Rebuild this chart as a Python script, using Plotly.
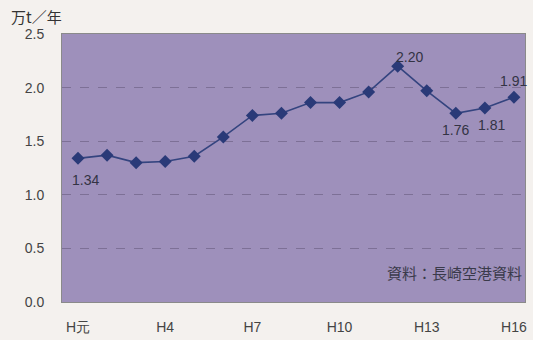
import plotly.graph_objects as go

years = ["H元", "H2", "H3", "H4", "H5", "H6", "H7", "H8", "H9", "H10",
         "H11", "H12", "H13", "H14", "H15", "H16"]
values = [1.34, 1.37, 1.30, 1.31, 1.36, 1.54, 1.74, 1.76, 1.86, 1.86,
          1.96, 2.20, 1.97, 1.76, 1.81, 1.91]
tick_labels = ["H元", "H4", "H7", "H10", "H13", "H16"]
label_years = ["H元", "H12", "H14", "H15", "H16"]
label_shift = [(8, -22), (12, 9), (0, -17), (7, -17), (0, 16)]

xs = list(range(len(years)))

fig = go.Figure()
fig.add_trace(go.Scatter(
    x=xs, y=values, mode="lines+markers",
    line=dict(color="#34447f", width=1.6),
    marker=dict(symbol="diamond", size=10, color="#2a3a78"),
    hoverinfo="skip", showlegend=False,
))

annotations = [
    dict(text="万t／年", xref="paper", yref="paper", x=-0.115, y=1.02,
         xanchor="left", yanchor="bottom", showarrow=False,
         font=dict(family="Noto Sans CJK JP", size=15, color="#333333")),
    dict(text="資料：長崎空港資料", xref="paper", yref="paper", x=0.998, y=0.11,
         xanchor="right", yanchor="middle", showarrow=False,
         font=dict(family="Noto Sans CJK JP", size=15, color="#3a3a4a")),
]
for yr, (dx, dy) in zip(label_years, label_shift):
    i = years.index(yr)
    annotations.append(dict(
        x=i, y=values[i], xref="x", yref="y", text=f"{values[i]:.2f}",
        showarrow=False, xshift=dx, yshift=dy,
        font=dict(family="Liberation Sans, Arial", size=14, color="#333344"),
    ))

fig.update_layout(
    width=533, height=340,
    margin=dict(l=62, r=8, t=34, b=38),
    paper_bgcolor="#f4f1ee",
    plot_bgcolor="#9e90bb",
    font=dict(family="Liberation Sans, Arial", size=14, color="#444444"),
    xaxis=dict(
        range=[-0.55, 15.38], automargin=False,
        tickvals=[years.index(t) for t in tick_labels],
        ticktext=tick_labels,
        showgrid=False, zeroline=False, ticks="", ticklabelstandoff=12,
        showline=True, linecolor="#8a8a8a", mirror=True,
    ),
    yaxis=dict(
        range=[0, 2.5], dtick=0.5, tickformat=".1f", automargin=False,
        showgrid=True, gridcolor="#7d7096", griddash="dash", gridwidth=1,
        zeroline=False, ticks="", ticklabelstandoff=14,
        showline=True, linecolor="#8a8a8a", mirror=True,
    ),
    annotations=annotations,
)

fig.write_html("out.html")
